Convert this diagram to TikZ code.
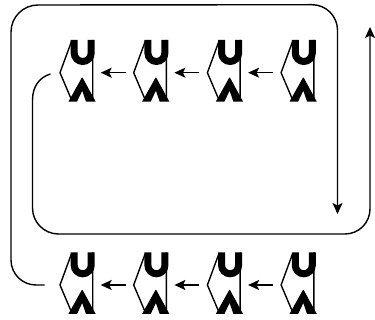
\documentclass[tikz,border=0pt]{standalone}
\usetikzlibrary{arrows.meta}
\tikzset{
  x=1pt,y=-1pt,
  wire/.style={line width=1.4pt,line join=round},
  flow/.style={wire,-{Stealth[length=11pt,width=10pt,inset=2.5pt]}},
  gate/.pic={
    \coordinate (-in) at (-0.7,0);
    \coordinate (-out) at (-33.4,0);
    \draw[wire] (-22,-31) -- (-33.4,0) -- (-21.5,28) (-0.7,-32.7) -- (-0.7,28);
    \draw[line width=7pt] (-19.2,-32.7) -- (-19.2,-19.7) arc[start angle=180,end angle=360,radius=8.5pt] -- (-2.2,-32.7);
    \fill (-25,29) -- (-11.6,5) -- (-10.8,5) -- (2.3,29) -- (-7.4,29) -- (-11.2,18) -- (-16.4,29) -- cycle;
  }
}
\begin{document}
\begin{tikzpicture}
\useasboundingbox (0,0) rectangle (375,320);
\foreach \n/\x in {1/93.4,2/167.1,3/240.8,4/314.5}{
  \pic (a\n) at (\x,72.7) {gate};
  \pic (b\n) at (\x,285) {gate};
}
\foreach \r in {a,b}{
  \draw[flow,shorten <=8pt,shorten >=8pt] (\r2-out) -- (\r1-in);
  \draw[flow,shorten <=8pt,shorten >=8pt] (\r3-out) -- (\r2-in);
  \draw[flow,shorten <=8pt,shorten >=8pt] (\r4-out) -- (\r3-in);
}
\coordinate (outerstart) at (44.5,285);
\coordinate (outerend) at (337.5,214);
\coordinate (innerstart) at (50.5,74);
\coordinate (innerend) at (370,27);
\draw[flow] (outerstart) -- (36,285) arc[start angle=270,end angle=180,radius=25pt] -- (11,32) arc[start angle=180,end angle=90,radius=27pt] -- (312,4.7) arc[start angle=90,end angle=0,radius=25.5pt] -- (outerend);
\draw[flow] (innerstart) .. controls (40,77) and (32.5,86) .. (32.5,100) -- (32.5,208) arc[start angle=180,end angle=270,radius=26pt] -- (345,234) arc[start angle=270,end angle=360,radius=25pt] -- (innerend);
\end{tikzpicture}
\end{document}
